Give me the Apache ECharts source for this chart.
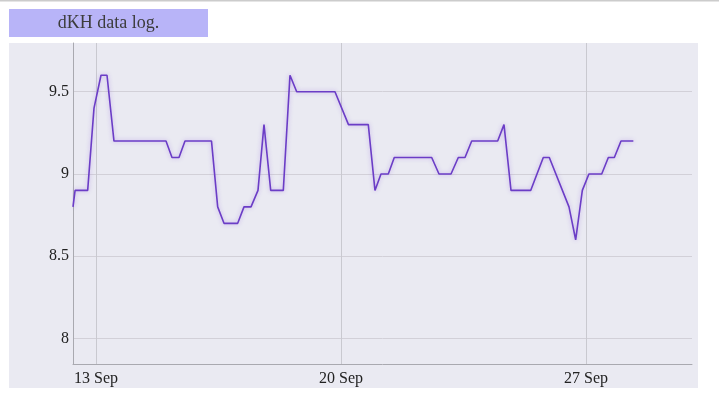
<!DOCTYPE html>
<html>
<head>
<meta charset="utf-8">
<script src="https://cdn.jsdelivr.net/npm/echarts@6/dist/echarts.min.js"></script>
<style>html,body{margin:0;padding:0;background:#fff;}#c{width:719px;height:398px;}</style>
</head>
<body>
<div id="c"></div>
<script>
const titleText = 'dKH data log.';
const times = [
  '2021-09-12 08:14','2021-09-12 09:40','2021-09-12 18:18','2021-09-12 22:38',
  '2021-09-13 03:26','2021-09-13 07:33','2021-09-13 12:20','2021-09-15 00:00',
  '2021-09-15 04:07','2021-09-15 08:55','2021-09-15 13:02','2021-09-16 07:12',
  '2021-09-16 11:27','2021-09-16 15:46','2021-09-17 01:10','2021-09-17 05:29',
  '2021-09-17 10:17','2021-09-17 15:05','2021-09-17 19:12','2021-09-17 23:48',
  '2021-09-18 08:26','2021-09-18 13:01','2021-09-18 17:38','2021-09-19 19:52',
  '2021-09-20 05:08','2021-09-20 18:43','2021-09-20 23:18','2021-09-21 03:25',
  '2021-09-21 08:26','2021-09-21 12:32','2021-09-22 14:11','2021-09-22 19:12',
  '2021-09-23 03:26','2021-09-23 08:26','2021-09-23 13:02','2021-09-23 17:38',
  '2021-09-24 11:26','2021-09-24 15:46','2021-09-24 20:34','2021-09-25 10:04',
  '2021-09-25 18:43','2021-09-25 22:50','2021-09-26 12:20','2021-09-26 16:55',
  '2021-09-26 21:29','2021-09-27 02:00','2021-09-27 10:46','2021-09-27 15:19',
  '2021-09-27 19:26','2021-09-28 00:00','2021-09-28 08:28'
];
const dkh = [
  8.8, 8.9, 8.9, 9.4,
  9.6, 9.6, 9.2, 9.2,
  9.1, 9.1, 9.2, 9.2,
  8.8, 8.7, 8.7, 8.8,
  8.8, 8.9, 9.3, 8.9,
  8.9, 9.6, 9.5, 9.5,
  9.3, 9.3, 8.9, 9.0,
  9.0, 9.1, 9.1, 9.0,
  9.0, 9.1, 9.1, 9.2,
  9.2, 9.3, 8.9, 8.9,
  9.1, 9.1, 8.8, 8.6,
  8.9, 9.0, 9.0, 9.1,
  9.1, 9.2, 9.2
];
const xTickDates = ['2021-09-13 00:00', '2021-09-20 00:00', '2021-09-27 00:00'];
const xTickLabels = ['13 Sep', '20 Sep', '27 Sep'];
const yTickValues = [8, 8.5, 9, 9.5];
const yTickLabels = ['8', '8.5', '9', '9.5'];
const xRange = ['2021-09-12 08:14', '2021-09-30 00:41'];
const yRange = [7.845, 9.796];

function ts(s) {
  const [d, t] = s.split(' ');
  const [Y, M, D] = d.split('-').map(Number);
  const [h, m] = t.split(':').map(Number);
  return Date.UTC(Y, M - 1, D, h, m);
}
const xTickTs = xTickDates.map(ts);
const seriesData = times.map((t, i) => [ts(t), dkh[i]]);

const chart = echarts.init(document.getElementById('c'), null, {renderer: 'canvas'});
const font = '"Liberation Serif", "DejaVu Serif", serif';
chart.setOption({
  animation: false,
  backgroundColor: '#ffffff',
  textStyle: {fontFamily: font},
  graphic: [
    {type: 'line', z: 0, shape: {x1: 0, y1: 0.5, x2: 719, y2: 0.5}, style: {stroke: '#cccccc', lineWidth: 2}},
    {type: 'rect', z: -10, shape: {x: 9, y: 9, width: 199, height: 28}, style: {fill: '#b8b4f8'}},
    {type: 'text', z: 0, x: 108.5, y: 23, style: {text: titleText, font: '18px ' + font, fill: '#3c3c3c', align: 'center', verticalAlign: 'middle'}},
    {type: 'rect', z: -10, shape: {x: 9, y: 43, width: 689, height: 345}, style: {fill: '#eaeaf2'}}
  ],
  grid: {left: 73, right: 27, top: 43, bottom: 34, containLabel: false},
  xAxis: {
    type: 'value',
    min: ts(xRange[0]),
    max: ts(xRange[1]),
    axisLine: {show: true, lineStyle: {color: '#a9a9b0', width: 1}},
    axisTick: {show: false, customValues: xTickTs},
    axisLabel: {
      customValues: xTickTs,
      formatter: v => { const i = xTickTs.indexOf(v); return i >= 0 ? xTickLabels[i] : ''; },
      color: '#222', fontSize: 16, fontFamily: font, margin: 7
    },
    splitLine: {show: true, lineStyle: {color: '#c9c9d0', width: 1}}
  },
  yAxis: {
    type: 'value',
    min: yRange[0],
    max: yRange[1],
    axisLine: {show: true, lineStyle: {color: '#a9a9b0', width: 1}},
    axisTick: {show: false, customValues: yTickValues},
    axisLabel: {
      customValues: yTickValues,
      formatter: v => { const i = yTickValues.indexOf(v); return i >= 0 ? yTickLabels[i] : ''; },
      color: '#222', fontSize: 16, fontFamily: font, margin: 4
    },
    splitLine: {show: true, lineStyle: {color: '#d2d0d8', width: 1}}
  },
  series: [{
    type: 'line',
    data: seriesData,
    showSymbol: false,
    symbol: 'none',
    lineStyle: {color: '#6b3dc6', width: 1.6, shadowColor: 'rgba(140,90,225,0.45)', shadowBlur: 4}
  }]
});
</script>
</body>
</html>
